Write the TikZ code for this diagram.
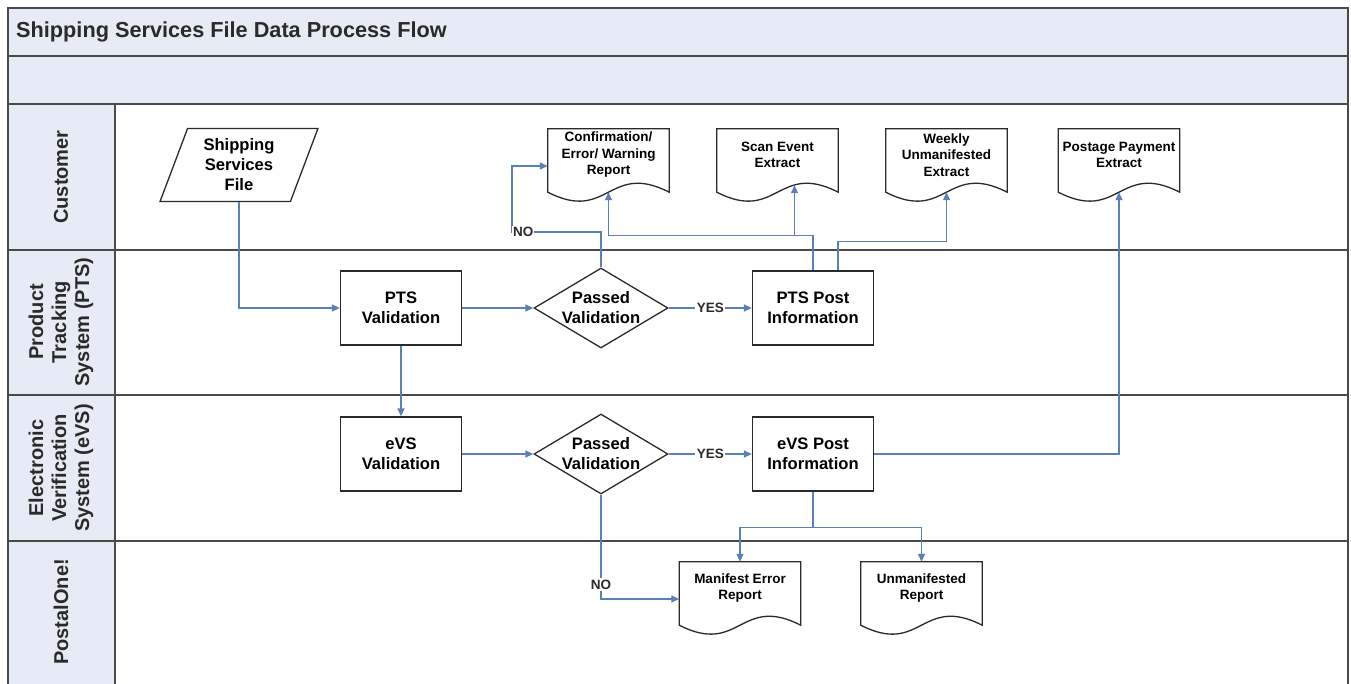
\documentclass[tikz,border=0pt]{standalone}
\usepackage{fontspec}
\setmainfont{Liberation Sans}
\usetikzlibrary{shapes.geometric, arrows.meta}
\definecolor{band}{HTML}{E6EBF5}
\definecolor{frame}{HTML}{4A4A4A}
\definecolor{ink}{HTML}{2A2A2A}
\definecolor{flowblue}{HTML}{5B80B8}

\begin{document}
\begin{tikzpicture}[
    x=1pt, y=-1pt,
    % Node styles
    process/.style={
        rectangle,
        draw=ink,
        fill=white,
        line width=1.3pt,
        minimum width=121pt,
        minimum height=74pt,
        inner sep=0pt,
        align=center,
        font=\fontsize{16.6}{20}\selectfont\bfseries
    },
    decision/.style={
        diamond,
        draw=ink,
        fill=white,
        line width=1.3pt,
        minimum width=134pt,
        minimum height=80pt,
        inner sep=0pt,
        align=center,
        font=\fontsize{16.6}{20}\selectfont\bfseries
    },
    data/.style={
        trapezium,
        trapezium left angle=70,
        trapezium right angle=110,
        trapezium stretches=true,
        draw=ink,
        fill=white,
        line width=1.3pt,
        minimum width=158pt,
        minimum height=73pt,
        inner sep=0pt,
        align=center,
        font=\fontsize{16.6}{20}\selectfont\bfseries
    },
    document/.style={
        rectangle,
        minimum width=121pt,
        minimum height=52pt,
        inner sep=0pt,
        align=center,
        font=\fontsize{13.5}{16.5}\selectfont\bfseries
    },
    doc line/.style={
        draw=ink,
        fill=white,
        line width=1.3pt
    },
    flow/.style={
        draw=flowblue,
        line width=1.3pt,
        -{Triangle[length=8pt,width=7pt]}
    },
    tag/.style={
        fill=white,
        inner sep=1.5pt,
        text=ink,
        font=\fontsize{13.5}{16}\selectfont\bfseries
    },
    lane line/.style={
        draw=frame,
        line width=2.2pt
    },
    lane label/.style={
        rotate=90,
        align=center,
        text=ink,
        font=\fontsize{20}{23}\selectfont\bfseries
    }
]

\useasboundingbox (0,0) rectangle (1351,684);

% Bands and swimlanes
\fill[band] (8,8) rectangle (1348,104);
\fill[band] (8,104) rectangle (115,684);
\draw[lane line] (8,684) -- (8,8) -- (1348,8) -- (1348,684);
\foreach \y in {56,104,250,395,541} {
    \draw[lane line] (8,\y) -- (1348,\y);
}
\draw[lane line] (115,104) -- (115,684);

\node[anchor=west, inner sep=0pt, text=ink, font=\fontsize{21.7}{26}\selectfont\bfseries]
    (title) at (16,32) {Shipping Services File Data Process Flow};

% Lane labels
\foreach \y/\name [count=\i] in {177/Customer, 322/{Product\\Tracking\\System (PTS)},
        468/{Electronic\\Verification\\System (eVS)}, 612/PostalOne!} {
    \node[lane label] (lane-\i) at (61,\y) {\name};
}

% Document outline: flat top, wavy bottom 11pt under the node
\def\docoutline#1{
    \draw[doc line] (#1.north west) -- (#1.north east) -- ([yshift=-11pt]#1.south east)
        .. controls ([xshift=-60.5pt,yshift=20pt]#1.south east)
        and ([xshift=60.5pt,yshift=-42pt]#1.south west) .. ([yshift=-11pt]#1.south west) -- cycle;
}

% Customer documents
\node[document] (confirm) at (608.5,155) {};
\node[document] (scan) at (777.5,155) {};
\node[document] (weekly) at (946.5,155) {};
\node[document] (postage) at (1119,155) {};
% PostalOne! documents
\node[document] (manifest) at (740,588) {};
\node[document] (unmanifest) at (921.5,588) {};

\foreach \d in {confirm, scan, weekly, postage, manifest, unmanifest} {
    \docoutline{\d}
}

\node[document] at (confirm) {Confirmation/\\Error/ Warning\\Report};
\node[document] at (scan) {Scan Event\\Extract};
\node[document] at (weekly) {Weekly\\Unmanifested\\Extract};
\node[document] at (postage) {Postage Payment\\Extract};
\node[document] at (manifest) {Manifest Error\\Report};
\node[document] at (unmanifest) {Unmanifested\\Report};

% Process steps
\node[data] (file) at (239,165) {Shipping\\Services\\File};
\node[process] (pts) at (401,308) {PTS\\Validation};
\node[decision] (pts-check) at (601,308) {\makebox[0pt]{Passed}\\\makebox[0pt]{Validation}};
\node[process] (pts-post) at (813,308) {PTS Post\\Information};
\node[process] (evs) at (401,454) {eVS\\Validation};
\node[decision] (evs-check) at (601,454) {\makebox[0pt]{Passed}\\\makebox[0pt]{Validation}};
\node[process] (evs-post) at (813,454) {eVS Post\\Information};

% PTS lane
\draw[flow] (file.south) |- (pts.west);
\draw[flow] (pts.east) -- (pts-check.west);
\draw[flow] (pts-check.east) -- node[tag] (yes-pts) {YES} (pts-post.west);
\coordinate (no-bend) at (512,232);
\draw[flow] (pts-check.north) |- (no-bend) |- ([yshift=-11pt]confirm.west);
\node[tag, anchor=west, inner sep=1pt] (no-pts) at (no-bend) {NO};
\draw[flow] (pts-post.north) -- ++(0,35pt) -| ([yshift=-11pt]confirm.south);
\draw[flow] (pts-post.north) -- ++(0,35pt) -| ([xshift=17pt,yshift=-4pt]scan.south);
\draw[flow] ([xshift=25pt]pts-post.north) -- ++(0,29pt) -| ([yshift=-11pt]weekly.south);

% eVS lane
\draw[flow] (pts.south) -- (evs.north);
\draw[flow] (evs.east) -- (evs-check.west);
\draw[flow] (evs-check.east) -- node[tag] (yes-evs) {YES} (evs-post.west);
\draw[flow] (evs-check.south) |- node[tag, pos=0.43] (no-evs) {NO} ([yshift=-11pt]manifest.west);
\draw[flow] (evs-post.south) -- ++(0,-36pt) -| (manifest.north);
\draw[flow] (evs-post.south) -- ++(0,-36pt) -| (unmanifest.north);
\draw[flow] (evs-post.east) -| ([yshift=-11pt]postage.south);

\end{tikzpicture}
\end{document}
